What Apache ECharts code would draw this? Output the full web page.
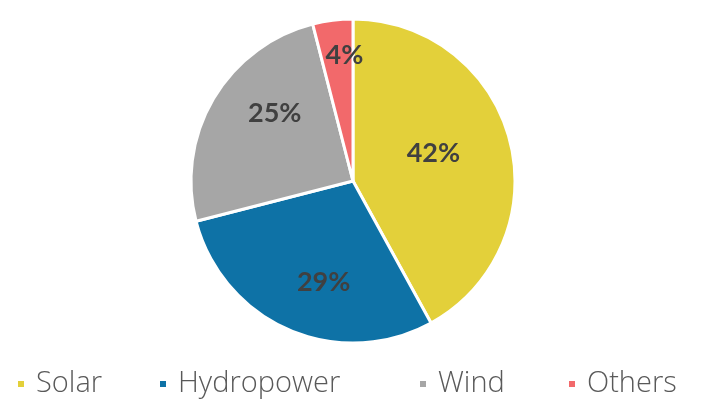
<!DOCTYPE html>
<html>
<head>
<meta charset="utf-8">
<script src="https://cdn.jsdelivr.net/npm/echarts@6/dist/echarts.min.js"></script>
<style>
html,body{margin:0;padding:0;background:#fff;}
#chart{width:706px;height:405px;}
</style>
</head>
<body>
<div id="chart"></div>
<script>
const categories = ['Solar', 'Hydropower', 'Wind', 'Others'];
const shares = [42, 29, 25, 4];
const colors = ['#E3D03A', '#0E72A6', '#A6A6A6', '#F2696B'];
const labelOffsets = [[-1, -7], [4, 24], [-6, -25], [2, -42]];
const legendLefts = [16, 158, 418, 567];

const chart = echarts.init(document.getElementById('chart'), null, {renderer: 'canvas'});

const data = categories.map((name, i) => ({
  name: name,
  value: shares[i],
  itemStyle: {color: colors[i]},
  label: {offset: labelOffsets[i]}
}));

const legends = categories.map((name, i) => ({
  data: [name],
  left: legendLefts[i],
  top: 369,
  padding: 0,
  orient: 'horizontal',
  itemWidth: 8,
  itemHeight: 8,
  icon: 'rect',
  selectedMode: false,
  textStyle: {
    fontFamily: 'Open Sans',
    fontWeight: 300,
    fontSize: 29,
    color: '#595959',
    lineHeight: 30,
    padding: [0, 0, 0, 6]
  }
}));

chart.setOption({
  backgroundColor: '#ffffff',
  animation: false,
  legend: legends,
  series: [{
    type: 'pie',
    center: [353, 181],
    radius: [0, 162],
    startAngle: 90,
    clockwise: true,
    avoidLabelOverlap: false,
    itemStyle: {borderColor: '#ffffff', borderWidth: 3},
    label: {
      show: true,
      position: 'inside',
      formatter: p => p.value + '%',
      fontFamily: 'Lato',
      fontWeight: 'bold',
      fontSize: 27,
      color: '#404040'
    },
    labelLine: {show: false},
    emphasis: {disabled: true},
    data: data
  }]
});
</script>
</body>
</html>
